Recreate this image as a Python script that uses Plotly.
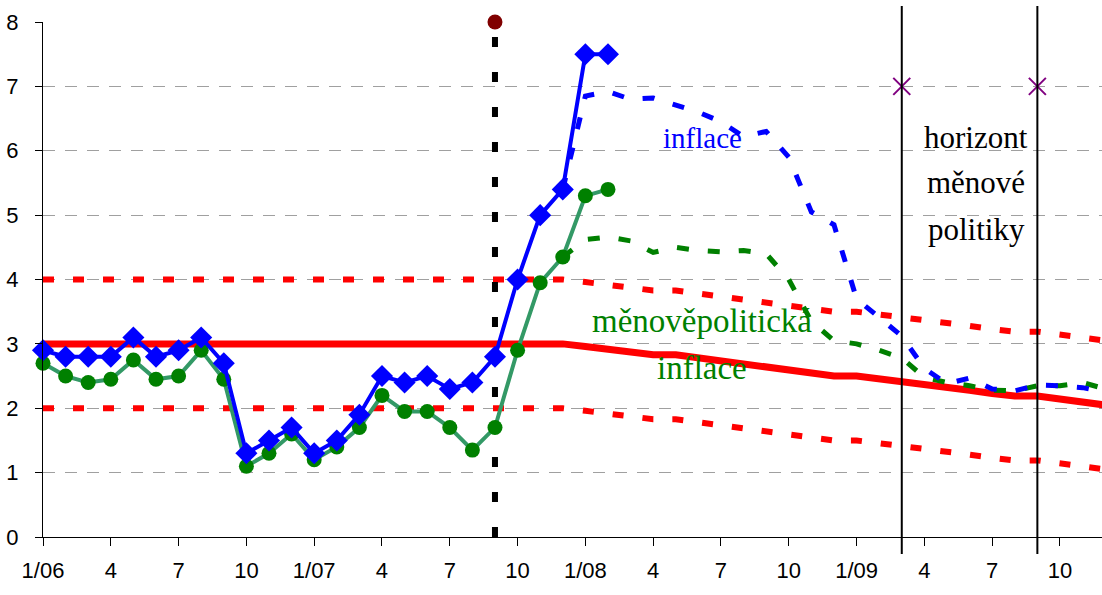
import plotly.graph_objects as go

# Month index 0 = January 2006, one step per month
MONTHS_ACTUAL = list(range(0, 26))          # 1/06 .. 2/08
MONTHS_FORECAST = list(range(23, 48))       # 12/07 .. 12/09
MONTHS_TARGET = list(range(0, 48))

TICK_VALUES = list(range(0, 46, 3))
TICK_LABELS = ["1/06", "4", "7", "10", "1/07", "4", "7", "10",
               "1/08", "4", "7", "10", "1/09", "4", "7", "10"]

# Headline inflation (actual)
CPI_ACTUAL = [2.9, 2.8, 2.8, 2.8, 3.1, 2.8, 2.9, 3.1, 2.7, 1.3, 1.5, 1.7,
              1.3, 1.5, 1.9, 2.5, 2.4, 2.5, 2.3, 2.4, 2.8, 4.0, 5.0, 5.4,
              7.5, 7.5]

# Monetary-policy relevant inflation (actual)
MP_ACTUAL = [2.7, 2.5, 2.4, 2.45, 2.75, 2.45, 2.5, 2.9, 2.45, 1.1, 1.3, 1.6,
             1.2, 1.4, 1.7, 2.2, 1.95, 1.95, 1.7, 1.35, 1.7, 2.9, 3.95, 4.35,
             5.3, 5.4]

# Forecasts
CPI_FORECAST = [5.4, 6.85, 6.92, 6.8, 6.82, 6.7, 6.6, 6.45, 6.22, 6.3, 5.9,
                5.05, 4.85, 3.7, 3.42, 3.12, 2.62, 2.38, 2.47, 2.3, 2.27,
                2.36, 2.35, 2.32, 2.25]
MP_FORECAST = [4.35, 4.62, 4.66, 4.6, 4.42, 4.5, 4.45, 4.43, 4.45, 4.4, 4.0,
               3.35, 3.05, 3.0, 2.9, 2.78, 2.48, 2.4, 2.35, 2.28, 2.27,
               2.35, 2.35, 2.4, 2.3]

# Inflation target and tolerance band
TARGET = [3.0] * 24 + [2.96, 2.92, 2.87, 2.83, 2.83, 2.78, 2.73, 2.69, 2.64,
                       2.59, 2.55, 2.50, 2.50, 2.46, 2.41, 2.37, 2.32, 2.28,
                       2.23, 2.19, 2.19, 2.14, 2.10, 2.05]
TARGET_UPPER = [4.0] * 24 + [3.96, 3.92, 3.87, 3.83, 3.83, 3.78, 3.73, 3.69,
                             3.64, 3.59, 3.55, 3.50, 3.50, 3.46, 3.41, 3.37,
                             3.32, 3.28, 3.23, 3.19, 3.19, 3.14, 3.10, 3.05]
TARGET_LOWER = [2.0] * 24 + [1.96, 1.92, 1.87, 1.83, 1.83, 1.78, 1.73, 1.69,
                             1.64, 1.59, 1.55, 1.50, 1.50, 1.46, 1.41, 1.37,
                             1.32, 1.28, 1.23, 1.19, 1.19, 1.14, 1.10, 1.05]

FORECAST_START = 20          # 9/07
HORIZON = [38, 44]           # 3/09 and 9/09
HORIZON_MARK = [7, 7]

X_MAX = 46.86
Y_MAX = 8

BLUE = "#0000FF"
GREEN_LINE = "#339966"
GREEN = "#008000"
RED = "#FF0000"

fig = go.Figure()

# tolerance band and target
fig.add_trace(go.Scatter(x=MONTHS_TARGET, y=TARGET_UPPER, mode="lines",
                         line=dict(color=RED, width=6, dash="11px,19px")))
fig.add_trace(go.Scatter(x=MONTHS_TARGET, y=TARGET_LOWER, mode="lines",
                         line=dict(color=RED, width=6, dash="11px,19px")))
fig.add_trace(go.Scatter(x=MONTHS_TARGET, y=TARGET, mode="lines",
                         line=dict(color=RED, width=7)))

# forecasts
fig.add_trace(go.Scatter(x=MONTHS_FORECAST, y=MP_FORECAST, mode="lines",
                         line=dict(color=GREEN, width=5, dash="12px,19px")))
fig.add_trace(go.Scatter(x=MONTHS_FORECAST, y=CPI_FORECAST, mode="lines",
                         line=dict(color=BLUE, width=5, dash="12px,19px")))

# start of the forecast period
fig.add_trace(go.Scatter(x=[FORECAST_START, FORECAST_START], y=[0, Y_MAX],
                         mode="lines",
                         line=dict(color="black", width=6, dash="10px,25px")))

# actual data
fig.add_trace(go.Scatter(x=MONTHS_ACTUAL, y=MP_ACTUAL, mode="lines+markers",
                         line=dict(color=GREEN_LINE, width=4),
                         marker=dict(symbol="circle", size=15, color=GREEN),
                         cliponaxis=False))
fig.add_trace(go.Scatter(x=MONTHS_ACTUAL, y=CPI_ACTUAL, mode="lines+markers",
                         line=dict(color=BLUE, width=4),
                         marker=dict(symbol="diamond", size=17, color=BLUE),
                         cliponaxis=False))

fig.add_trace(go.Scatter(x=[FORECAST_START], y=[Y_MAX], mode="markers",
                         marker=dict(symbol="circle", size=15, color="#800000"),
                         cliponaxis=False))

# policy horizon bounds
PLOT_BOTTOM_PX = 58
PLOT_H = 595 - 22 - PLOT_BOTTOM_PX
for m in HORIZON:
    fig.add_shape(type="line", xref="paper", yref="paper",
                  x0=m / X_MAX, x1=m / X_MAX,
                  y0=-17 / PLOT_H, y1=1 + 16 / PLOT_H,
                  line=dict(color="black", width=2), layer="above")

fig.add_trace(go.Scatter(x=HORIZON, y=HORIZON_MARK, mode="markers",
                         marker=dict(symbol="x-thin", size=17,
                                     line=dict(color="#800080", width=2)),
                         cliponaxis=False))

serif = "Liberation Serif"
fig.add_annotation(x=29.2, y=6.2, text="inflace", showarrow=False,
                   font=dict(family=serif, size=29, color=BLUE))
fig.add_annotation(x=29.15, y=3.36, text="měnověpolitická", showarrow=False,
                   font=dict(family=serif, size=33, color=GREEN))
fig.add_annotation(x=29.15, y=2.62, text="inflace", showarrow=False,
                   font=dict(family=serif, size=33, color=GREEN))
for txt, yv in [("horizont", 6.2), ("měnové", 5.5), ("politiky", 4.78)]:
    fig.add_annotation(x=41.3, y=yv, text=txt, showarrow=False,
                       font=dict(family=serif, size=31, color="black"))

fig.update_layout(
    width=1102, height=595,
    margin=dict(l=43, r=0, t=22, b=PLOT_BOTTOM_PX),
    paper_bgcolor="white", plot_bgcolor="white",
    showlegend=False,
    font=dict(family="Liberation Sans", size=22, color="black"),
)
fig.update_xaxes(
    range=[0, X_MAX], tickmode="array", tickvals=TICK_VALUES,
    ticktext=TICK_LABELS, ticks="outside", ticklen=8, tickcolor="black",
    tickwidth=1, showline=True, linecolor="black", linewidth=1,
    showgrid=False, zeroline=False, ticklabelstandoff=6,
)
fig.update_yaxes(
    range=[0, Y_MAX], tickvals=list(range(0, 9)), ticks="outside", ticklen=7,
    tickcolor="black", tickwidth=1, showline=True, linecolor="black",
    linewidth=1, showgrid=True, gridcolor="#a0a0a0", gridwidth=1,
    griddash="12px,10px", zeroline=False, ticklabelstandoff=12,
)

fig.write_html("out.html")
